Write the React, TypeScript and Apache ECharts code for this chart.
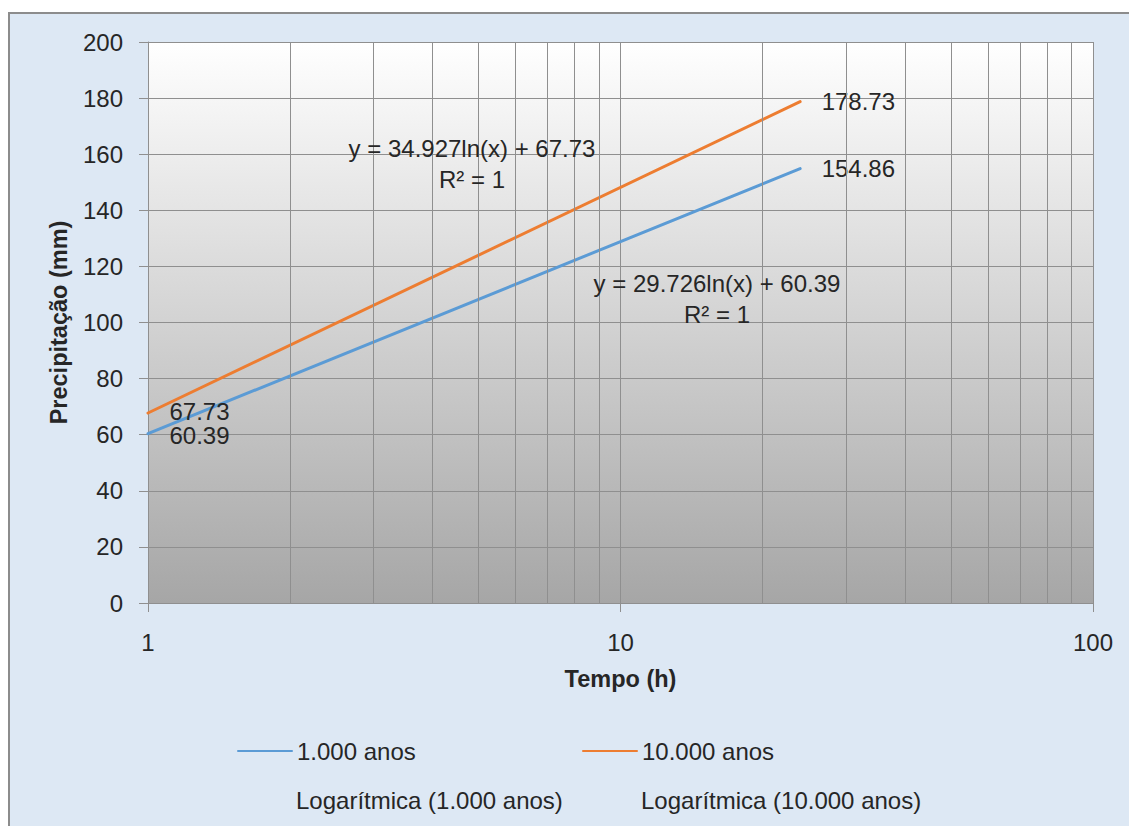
import React, { useEffect, useRef } from "react";
import * as echarts from "echarts";

const FONT = '"Liberation Sans", Arial, sans-serif';
const TEXT = "#262626";
const GRID = "#8f8f8f";

const seriesNames = ["1.000 anos", "10.000 anos"];
const trendNames = ["Logarítmica (1.000 anos)", "Logarítmica (10.000 anos)"];
const seriesColors = ["#5b9bd5", "#ed7d31"];
const durations = [1, 24];
const values1000 = [60.39, 154.86];
const values10000 = [67.73, 178.73];
const minorGridX = [2, 3, 4, 5, 6, 7, 8, 9, 20, 30, 40, 50, 60, 70, 80, 90];
const equations = [
  { eq: "y = 34.927ln(x) + 67.73", r2: "R² = 1", x: 472, y: 148 },
  { eq: "y = 29.726ln(x) + 60.39", r2: "R² = 1", x: 717, y: 283 },
];

export default function App() {
  const ref = useRef<HTMLDivElement>(null);
  useEffect(() => {
    if (!ref.current) return;
    const chart = echarts.init(ref.current, null, { renderer: "svg" });
    const mkLabel = {
      show: true,
      position: "right",
      distance: 21,
      fontSize: 24,
      lineHeight: 20,
      fontFamily: FONT,
      color: TEXT,
      formatter: (p: any) => p.value[1].toFixed(2),
    };
    // first-point labels nudged apart slightly so the two starting labels don't collide
    const mkData = (vals: number[], firstOffsetY: number) =>
      durations.map((d, i) =>
        i === 0 ? { value: [d, vals[i]], label: { offset: [0, firstOffsetY] } } : { value: [d, vals[i]] }
      );
    const legendBase = {
      orient: "horizontal",
      itemWidth: 54,
      itemHeight: 14,
      itemGap: 0,
      padding: 0,
      selectedMode: false,
      textStyle: { fontSize: 24, fontFamily: FONT, color: TEXT },
    };
    const textEls: any[] = [];
    equations.forEach((e) => {
      textEls.push({
        type: "text",
        x: e.x,
        y: e.y,
        z: 10,
        style: { text: e.eq, font: `24px ${FONT}`, fill: TEXT, align: "center", verticalAlign: "middle" },
      });
      textEls.push({
        type: "text",
        x: e.x,
        y: e.y + 31,
        z: 10,
        style: { text: e.r2, font: `24px ${FONT}`, fill: TEXT, align: "center", verticalAlign: "middle" },
      });
    });
    chart.setOption({
      animation: false,
      backgroundColor: "transparent",
      grid: {
        left: 148,
        top: 42,
        right: 36,
        bottom: 223,
        show: true,
        borderWidth: 0,
        backgroundColor: new echarts.graphic.LinearGradient(0, 0, 0, 1, [
          { offset: 0, color: "#ffffff" },
          { offset: 1, color: "#a6a6a6" },
        ]),
      },
      xAxis: {
        type: "log",
        logBase: 10,
        min: 1,
        max: 100,
        name: "Tempo (h)",
        nameLocation: "middle",
        nameGap: 64,
        nameTextStyle: { fontSize: 23.5, fontWeight: "bold", fontFamily: FONT, color: TEXT },
        axisLine: { show: true, lineStyle: { color: GRID, width: 1 } },
        axisTick: { show: true, length: 9, lineStyle: { color: GRID } },
        axisLabel: { fontSize: 24, fontFamily: FONT, color: TEXT, margin: 27 },
        splitLine: { show: true, lineStyle: { color: GRID, width: 1 } },
      },
      yAxis: {
        type: "value",
        min: 0,
        max: 200,
        interval: 20,
        name: "Precipitação (mm)",
        nameLocation: "middle",
        nameGap: 77,
        nameTextStyle: { fontSize: 23.5, fontWeight: "bold", fontFamily: FONT, color: TEXT },
        axisLine: { show: true, lineStyle: { color: GRID, width: 1 } },
        axisTick: { show: true, length: 9, lineStyle: { color: GRID } },
        axisLabel: { fontSize: 24, fontFamily: FONT, color: TEXT, margin: 25 },
        splitLine: { show: true, lineStyle: { color: GRID, width: 1 } },
      },
      legend: [
        { ...legendBase, left: 237, top: 739, data: [{ name: seriesNames[0] }] },
        { ...legendBase, left: 582, top: 739, data: [{ name: seriesNames[1] }] },
        { ...legendBase, left: 237, top: 788, data: [{ name: trendNames[0], icon: "none" }] },
        { ...legendBase, left: 582, top: 788, data: [{ name: trendNames[1], icon: "none" }] },
      ],
      graphic: textEls,
      series: [
        {
          name: "__grid",
          type: "line",
          data: [],
          z: 1,
          silent: true,
          markLine: {
            silent: true,
            symbol: ["none", "none"],
            label: { show: false },
            lineStyle: { color: GRID, width: 1, type: "solid" },
            emphasis: { disabled: true },
            data: minorGridX.map((v) => ({ xAxis: v })),
          },
        },
        {
          name: trendNames[0],
          type: "line",
          data: [],
          color: seriesColors[0],
        },
        {
          name: trendNames[1],
          type: "line",
          data: [],
          color: seriesColors[1],
        },
        {
          name: seriesNames[0],
          type: "line",
          z: 3,
          data: mkData(values1000, 2),
          color: seriesColors[0],
          lineStyle: { width: 3, color: seriesColors[0], cap: "round" },
          symbol: "circle",
          symbolSize: 1,
          itemStyle: { color: "rgba(0,0,0,0)" },
          label: mkLabel,
        },
        {
          name: seriesNames[1],
          type: "line",
          z: 3,
          data: mkData(values10000, -2),
          color: seriesColors[1],
          lineStyle: { width: 3, color: seriesColors[1], cap: "round" },
          symbol: "circle",
          symbolSize: 1,
          itemStyle: { color: "rgba(0,0,0,0)" },
          label: mkLabel,
        },
      ],
    });
    return () => chart.dispose();
  }, []);
  return (
    <div style={{ position: "fixed", left: 0, top: 0, width: 1129, height: 826, background: "#ffffff", overflow: "hidden" }}>
      <div
        style={{
          position: "absolute",
          left: 8,
          top: 12,
          width: 1200,
          height: 900,
          background: "#dde8f4",
          borderLeft: "2px solid #8c8c8c",
          borderTop: "2px solid #8c8c8c",
          boxSizing: "border-box",
        }}
      />
      <div ref={ref} style={{ position: "absolute", left: 0, top: 0, width: 1129, height: 826 }} />
    </div>
  );
}
